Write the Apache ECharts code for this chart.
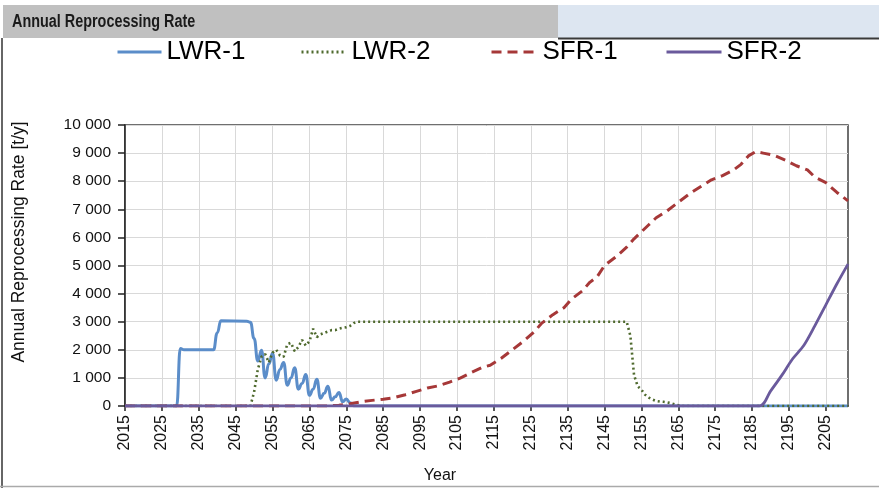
<!DOCTYPE html>
<html>
<head>
<meta charset="utf-8">
<script src="https://cdn.jsdelivr.net/npm/echarts@6/dist/echarts.min.js"></script>
<style>html,body{margin:0;padding:0;background:#fff}#c{width:879px;height:488px}</style>
</head>
<body>
<div id="c"></div>
<script>
// ---- data ----
const firstYear = 2015, lastYear = 2211;
const years = [];
for (let y = firstYear; y <= lastYear; y++) years.push(String(y));

const yTicks = [0,1000,2000,3000,4000,5000,6000,7000,8000,9000,10000];

const lwr1Years  = [2015,2029,2030,2031,2039,2040,2041,2048,2049,2050,2051,2052,2053,2054,2055,2056,2057,2058,2059,2060,2061,2062,2063,2064,2065,2066,2067,2068,2069,2070,2071,2072,2073,2074,2075,2076,2077,2211];
const lwr1Values = [0,0,2050,2000,2000,2600,3030,3020,2980,2400,1600,1980,1000,1500,1880,920,1300,1550,740,1000,1360,600,800,1120,380,600,950,280,450,700,210,330,480,150,250,120,0,0];

const lwr2Years  = [2015,2049,2050,2051,2052,2053,2054,2055,2056,2057,2058,2059,2060,2061,2062,2063,2064,2065,2066,2067,2068,2069,2070,2071,2072,2073,2074,2075,2076,2077,2078,2151,2152,2153,2154,2155,2156,2157,2158,2159,2160,2161,2162,2163,2164,2165,2166,2211];
const lwr2Values = [0,0,500,1300,1750,1850,1550,1900,2000,1800,1750,2200,2250,1950,2100,2350,2150,2300,2750,2450,2550,2600,2650,2700,2700,2750,2780,2800,2850,2950,3000,3000,2500,1100,700,580,400,300,230,180,160,150,130,100,60,30,0,0];

const sfr1Years  = [2015,2070,2073,2076,2079,2082,2085,2088,2091,2094,2097,2100,2103,2106,2109,2112,2114,2117,2120,2123,2126,2128,2131,2134,2136,2139,2141,2143,2145,2148,2151,2153,2155,2157,2159,2162,2165,2168,2171,2174,2177,2180,2182,2184,2186,2188,2191,2194,2197,2200,2202,2205,2208,2211];
const sfr1Values = [0,0,30,80,150,200,240,300,400,520,640,720,850,1000,1200,1380,1450,1700,2000,2300,2650,2950,3250,3500,3800,4100,4400,4600,5000,5300,5650,5950,6200,6450,6700,6950,7250,7550,7800,8050,8200,8400,8600,8900,9050,9000,8920,8750,8550,8400,8150,7950,7600,7300];

const sfr2Years  = [2015,2187,2190,2193,2196,2199,2202,2205,2208,2211];
const sfr2Values = [0,0,530,1080,1680,2150,2850,3600,4350,5050];

const seriesNames = ['LWR-1','LWR-2','SFR-1','SFR-2'];

// ---- chart ----
const pairs = (ys, vs) => ys.map((y, i) => [String(y), vs[i]]);
const fmt = v => String(v).replace(/\B(?=(\d{3})+(?!\d))/g, ' ');
const FONT = 'Liberation Sans, Arial, sans-serif';

const chart = echarts.init(document.getElementById('c'), null, {renderer: 'canvas'});

function legendAt(name, left, w) {
  return {
    data: [name], left: left, top: 33, padding: 5, itemWidth: w, itemHeight: 14, itemGap: 0,
    itemStyle: {opacity: 0},
    lineStyle: {width: 3},
    textStyle: {fontSize: 26, color: '#000', fontFamily: FONT, lineHeight: 28}
  };
}

chart.setOption({
  animation: false,
  backgroundColor: '#fff',
  grid: {left: 125, right: 31, top: 125, bottom: 82, show: true, borderColor: '#404040', borderWidth: 1.5, outerBoundsMode: 'none'},
  legend: [
    legendAt(seriesNames[0], 111, 44),
    legendAt(seriesNames[1], 295, 45),
    legendAt(seriesNames[2], 485, 46),
    legendAt(seriesNames[3], 660, 55)
  ],
  xAxis: {
    type: 'category', data: years, boundaryGap: false,
    axisLine: {show: true, lineStyle: {color: '#222', width: 1.5}},
    axisTick: {show: true, interval: 9, length: 5, lineStyle: {color: '#222', width: 1.5}},
    axisLabel: {interval: 9, rotate: 90, margin: 9, fontSize: 16, color: '#111', fontFamily: FONT},
    splitLine: {show: true, interval: 9, lineStyle: {color: '#d9d9d9', width: 1}}
  },
  yAxis: {
    type: 'value', min: yTicks[0], max: yTicks[yTicks.length - 1], interval: 1000,
    axisLine: {show: true, lineStyle: {color: '#222', width: 1.5}},
    axisTick: {show: true, length: 7, lineStyle: {color: '#222', width: 1.5}},
    axisLabel: {formatter: fmt, margin: 14, fontSize: 15.5, color: '#111', fontFamily: FONT},
    splitLine: {show: true, lineStyle: {color: '#d9d9d9', width: 1}}
  },
  series: [
    {name: seriesNames[0], type: 'line', data: pairs(lwr1Years, lwr1Values), showSymbol: false, symbol: 'none',
     smooth: 0.5, smoothMonotone: 'x',
     lineStyle: {color: '#5b8dc9', width: 3}, itemStyle: {color: '#5b8dc9'}},
    {name: seriesNames[1], type: 'line', data: pairs(lwr2Years, lwr2Values), showSymbol: false, symbol: 'none',
     lineStyle: {color: '#4f6a2e', width: 2.6, type: [2, 3]}, itemStyle: {color: '#4f6a2e'}},
    {name: seriesNames[2], type: 'line', data: pairs(sfr1Years, sfr1Values), showSymbol: false, symbol: 'none',
     lineStyle: {color: '#a63838', width: 3, type: [10, 6]}, itemStyle: {color: '#a63838'}},
    {name: seriesNames[3], type: 'line', data: pairs(sfr2Years, sfr2Values), showSymbol: false, symbol: 'none',
     smooth: 0.3,
     lineStyle: {color: '#6a5a9c', width: 2.8}, itemStyle: {color: '#6a5a9c'}}
  ],
  graphic: [
    {type: 'rect', left: 3, top: 5, shape: {width: 555, height: 33}, style: {fill: '#c0c0c0'}, z: -1},
    {type: 'rect', left: 558, top: 5, shape: {width: 321, height: 33}, style: {fill: '#dde6f1'}, z: -1},
    {type: 'line', shape: {x1: 558, y1: 38.5, x2: 879, y2: 38.5}, style: {stroke: '#3a3a3a', lineWidth: 2}},
    {type: 'line', shape: {x1: 2, y1: 38, x2: 2, y2: 488}, style: {stroke: '#333', lineWidth: 1.5}},
    {type: 'line', shape: {x1: 0, y1: 486.5, x2: 879, y2: 486.5}, style: {stroke: '#aaaaaa', lineWidth: 1.5}},
    {type: 'text', x: 12, y: 22, scaleX: 0.8, style: {text: 'Annual Reprocessing Rate', fill: '#1a1a1a',
      font: 'bold 18px ' + FONT, textVerticalAlign: 'middle'}},
    {type: 'text', x: 19, y: 242, rotation: Math.PI / 2,
      style: {text: 'Annual Reprocessing Rate [t/y]', fill: '#111', font: '17.5px ' + FONT, textAlign: 'center', textVerticalAlign: 'middle'}},
    {type: 'text', x: 440, y: 476,
      style: {text: 'Year', fill: '#111', font: '16px ' + FONT, textAlign: 'center', textVerticalAlign: 'middle'}}
  ]
});
</script>
</body>
</html>
